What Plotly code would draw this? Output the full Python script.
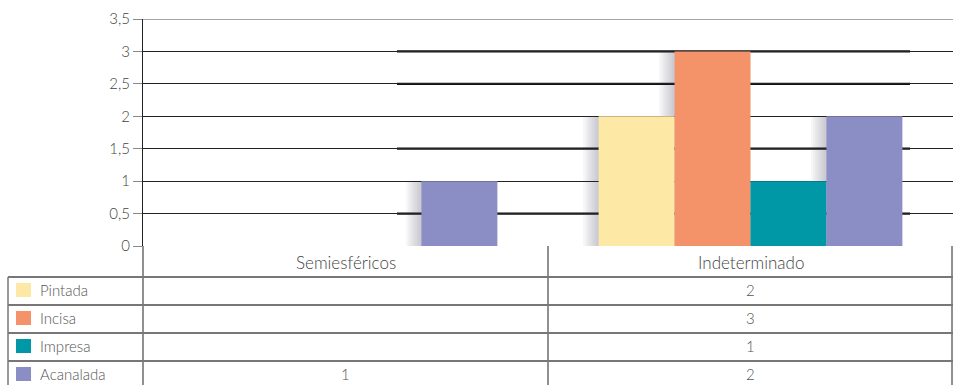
import plotly.graph_objects as go

# datos del gráfico
categorias = ['Semiesféricos', 'Indeterminado']
series = ['Pintada', 'Incisa', 'Impresa', 'Acanalada']
pintada = [None, 2]
incisa = [None, 3]
impresa = [None, 1]
acanalada = [1, 2]
valores = [pintada, incisa, impresa, acanalada]
colores = ['#FDE8A6', '#F4926A', '#0097A6', '#8B8EC4']
ticks_y = [0, 0.5, 1, 1.5, 2, 2.5, 3, 3.5]

W, H = 953, 385
FUENTE = 'Lato'
GRIS = '#555555'
ANCHO = 0.1875  # ancho de cada barra en unidades de categoria


def px(x):
    return x / W


def py(y):
    return 1 - y / H


def main():
    fig = go.Figure()

    # sombra difusa a la izquierda de las barras
    for i, vals in enumerate(valores):
        off = -0.375 + i * ANCHO
        for k in range(1, 8):
            fig.add_trace(go.Bar(x=categorias, y=vals, offset=off - k * 0.0055, width=ANCHO,
                                 marker=dict(color='rgba(60,60,70,0.04)', line=dict(width=0)),
                                 hoverinfo='skip', showlegend=False))

    for i, (nombre, vals, color) in enumerate(zip(series, valores, colores)):
        fig.add_trace(go.Bar(x=categorias, y=vals, name=nombre, offset=-0.375 + i * ANCHO,
                             width=ANCHO, marker=dict(color=color, line=dict(width=0))))

    shapes = []
    annotations = []

    # lineas gruesas (efecto del original) sobre algunas guias
    for v in [0.5, 1.5, 2.5, 3]:
        shapes.append(dict(type='line', xref='paper', yref='y', x0=px(397), x1=px(910), y0=v, y1=v,
                           line=dict(color='#111111', width=2.2), layer='below'))
    # borde superior gris
    shapes.append(dict(type='line', xref='paper', yref='y', x0=px(143), x1=1, y0=3.5, y1=3.5,
                       line=dict(color='#888888', width=1.5), layer='below'))

    # tabla de datos
    filas_y = [277, 305, 333, 361, 389]
    for xv in [143, 548, 952]:
        shapes.append(dict(type='line', xref='paper', yref='paper', x0=px(xv), x1=px(xv),
                           y0=py(246), y1=py(H), line=dict(color='#222222', width=1)))
    shapes.append(dict(type='line', xref='paper', yref='paper', x0=px(8), x1=px(8),
                       y0=py(277), y1=py(H), line=dict(color='#777777', width=1.5)))
    for yv in filas_y[:4]:
        shapes.append(dict(type='line', xref='paper', yref='paper', x0=px(8), x1=px(953),
                           y0=py(yv), y1=py(yv), line=dict(color='#777777', width=1.8)))

    for j, cat in enumerate(categorias):
        annotations.append(dict(x=j, xref='x', y=py(262), yref='paper', yanchor='middle',
                                text=cat, showarrow=False,
                                font=dict(family=FUENTE, size=17, color='#444444', weight=300)))

    for i, (nombre, vals, color) in enumerate(zip(series, valores, colores)):
        yc = (filas_y[i] + filas_y[i + 1]) / 2 - 1
        shapes.append(dict(type='rect', xref='paper', yref='paper', x0=px(16), x1=px(31),
                           y0=py(yc - 7), y1=py(yc + 7), fillcolor=color, line=dict(width=0)))
        annotations.append(dict(x=px(38), xref='paper', y=py(yc), yref='paper', text=nombre,
                                showarrow=False, xanchor='left', yanchor='middle',
                                font=dict(family=FUENTE, size=15, color=GRIS, weight=300)))
        for j, v in enumerate(vals):
            if v is not None:
                annotations.append(dict(x=j, xref='x', y=py(yc), yref='paper', yanchor='middle',
                                        text=str(v), showarrow=False,
                                        font=dict(family=FUENTE, size=15, color=GRIS, weight=300)))

    fig.update_layout(
        width=W, height=H,
        margin=dict(l=0, r=0, t=0, b=0, autoexpand=False),
        paper_bgcolor='white', plot_bgcolor='white',
        barmode='overlay',
        showlegend=False,
        separators=',.',
        font=dict(family=FUENTE, color=GRIS),
        xaxis=dict(
            domain=[px(143), 1],
            range=[-0.5, 1.5],
            showticklabels=False,
            showgrid=False, zeroline=False,
            showline=False, automargin=False,
        ),
        yaxis=dict(
            domain=[py(246), py(19)],
            range=[0, 3.5],
            tickvals=ticks_y,
            ticks='outside', ticklen=9, tickcolor='#888888',
            tickfont=dict(family=FUENTE, size=15, color='#444444', weight=300),
            showgrid=True, gridcolor='#222222', gridwidth=1,
            zeroline=False, automargin=False,
            showline=True, linecolor='#222222', linewidth=1,
        ),
        shapes=shapes,
        annotations=annotations,
    )

    # quitar el margen por defecto del body
    fig.write_html('out.html', config={'displayModeBar': False},
                   post_script="document.body.style.margin='0';")


if __name__ == '__main__':
    main()
